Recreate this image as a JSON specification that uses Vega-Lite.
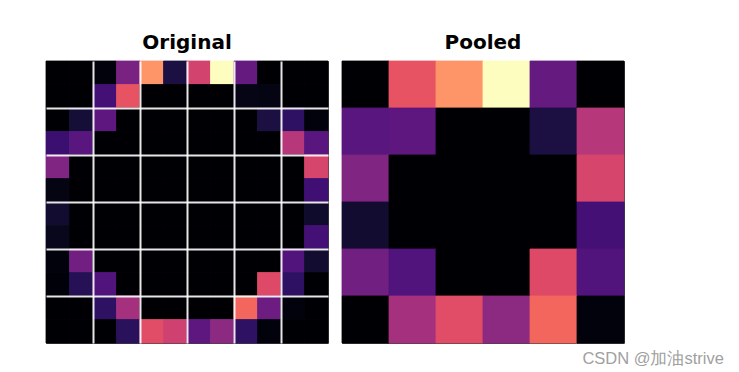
{
  "$schema": "https://vega.github.io/schema/vega-lite/v6.json",
  "background": "white",
  "padding": {"left": 45, "top": 32, "right": 5, "bottom": 5},
  "spacing": 12,
  "title": {"text": "CSDN @加油strive", "orient": "bottom", "anchor": "end", "dx": 99, "offset": 7, "font": "Liberation Sans", "fontSize": 16.5, "fontWeight": "normal", "color": "#a0a0a0"},
  "config": {
    "view": {"stroke": "#444", "strokeWidth": 1},
    "title": {"font": "DejaVu Sans", "fontSize": 20, "fontWeight": "bold", "color": "black", "offset": 8}
  },
  "datasets": {
    "orig": [
      {"r":0,"c":0,"v":0},{"r":0,"c":1,"v":0},{"r":0,"c":2,"v":0.02},{"r":0,"c":3,"v":0.35},{"r":0,"c":4,"v":0.78},{"r":0,"c":5,"v":0.12},{"r":0,"c":6,"v":0.57},{"r":0,"c":7,"v":1.0},{"r":0,"c":8,"v":0.30},{"r":0,"c":9,"v":0},{"r":0,"c":10,"v":0},{"r":0,"c":11,"v":0},
      {"r":1,"c":0,"v":0},{"r":1,"c":1,"v":0},{"r":1,"c":2,"v":0.22},{"r":1,"c":3,"v":0.63},{"r":1,"c":4,"v":0},{"r":1,"c":5,"v":0},{"r":1,"c":6,"v":0},{"r":1,"c":7,"v":0},{"r":1,"c":8,"v":0.04},{"r":1,"c":9,"v":0.03},{"r":1,"c":10,"v":0},{"r":1,"c":11,"v":0},
      {"r":2,"c":0,"v":0},{"r":2,"c":1,"v":0.10},{"r":2,"c":2,"v":0.28},{"r":2,"c":3,"v":0},{"r":2,"c":4,"v":0},{"r":2,"c":5,"v":0},{"r":2,"c":6,"v":0},{"r":2,"c":7,"v":0},{"r":2,"c":8,"v":0},{"r":2,"c":9,"v":0.12},{"r":2,"c":10,"v":0.17},{"r":2,"c":11,"v":0.02},
      {"r":3,"c":0,"v":0.20},{"r":3,"c":1,"v":0.27},{"r":3,"c":2,"v":0},{"r":3,"c":3,"v":0},{"r":3,"c":4,"v":0},{"r":3,"c":5,"v":0},{"r":3,"c":6,"v":0},{"r":3,"c":7,"v":0},{"r":3,"c":8,"v":0},{"r":3,"c":9,"v":0},{"r":3,"c":10,"v":0.50},{"r":3,"c":11,"v":0.27},
      {"r":4,"c":0,"v":0.37},{"r":4,"c":1,"v":0},{"r":4,"c":2,"v":0},{"r":4,"c":3,"v":0},{"r":4,"c":4,"v":0},{"r":4,"c":5,"v":0},{"r":4,"c":6,"v":0},{"r":4,"c":7,"v":0},{"r":4,"c":8,"v":0},{"r":4,"c":9,"v":0},{"r":4,"c":10,"v":0},{"r":4,"c":11,"v":0.58},
      {"r":5,"c":0,"v":0.03},{"r":5,"c":1,"v":0},{"r":5,"c":2,"v":0},{"r":5,"c":3,"v":0},{"r":5,"c":4,"v":0},{"r":5,"c":5,"v":0},{"r":5,"c":6,"v":0},{"r":5,"c":7,"v":0},{"r":5,"c":8,"v":0},{"r":5,"c":9,"v":0},{"r":5,"c":10,"v":0},{"r":5,"c":11,"v":0.21},
      {"r":6,"c":0,"v":0.09},{"r":6,"c":1,"v":0},{"r":6,"c":2,"v":0},{"r":6,"c":3,"v":0},{"r":6,"c":4,"v":0},{"r":6,"c":5,"v":0},{"r":6,"c":6,"v":0},{"r":6,"c":7,"v":0},{"r":6,"c":8,"v":0},{"r":6,"c":9,"v":0},{"r":6,"c":10,"v":0},{"r":6,"c":11,"v":0.08},
      {"r":7,"c":0,"v":0.05},{"r":7,"c":1,"v":0},{"r":7,"c":2,"v":0},{"r":7,"c":3,"v":0},{"r":7,"c":4,"v":0},{"r":7,"c":5,"v":0},{"r":7,"c":6,"v":0},{"r":7,"c":7,"v":0},{"r":7,"c":8,"v":0},{"r":7,"c":9,"v":0},{"r":7,"c":10,"v":0},{"r":7,"c":11,"v":0.22},
      {"r":8,"c":0,"v":0.02},{"r":8,"c":1,"v":0.33},{"r":8,"c":2,"v":0},{"r":8,"c":3,"v":0},{"r":8,"c":4,"v":0},{"r":8,"c":5,"v":0},{"r":8,"c":6,"v":0},{"r":8,"c":7,"v":0},{"r":8,"c":8,"v":0},{"r":8,"c":9,"v":0},{"r":8,"c":10,"v":0.25},{"r":8,"c":11,"v":0.09},
      {"r":9,"c":0,"v":0.01},{"r":9,"c":1,"v":0.15},{"r":9,"c":2,"v":0.25},{"r":9,"c":3,"v":0},{"r":9,"c":4,"v":0},{"r":9,"c":5,"v":0},{"r":9,"c":6,"v":0},{"r":9,"c":7,"v":0},{"r":9,"c":8,"v":0},{"r":9,"c":9,"v":0.60},{"r":9,"c":10,"v":0.17},{"r":9,"c":11,"v":0},
      {"r":10,"c":0,"v":0},{"r":10,"c":1,"v":0},{"r":10,"c":2,"v":0.17},{"r":10,"c":3,"v":0.46},{"r":10,"c":4,"v":0},{"r":10,"c":5,"v":0},{"r":10,"c":6,"v":0},{"r":10,"c":7,"v":0},{"r":10,"c":8,"v":0.68},{"r":10,"c":9,"v":0.32},{"r":10,"c":10,"v":0.02},{"r":10,"c":11,"v":0},
      {"r":11,"c":0,"v":0},{"r":11,"c":1,"v":0},{"r":11,"c":2,"v":0},{"r":11,"c":3,"v":0.16},{"r":11,"c":4,"v":0.61},{"r":11,"c":5,"v":0.56},{"r":11,"c":6,"v":0.28},{"r":11,"c":7,"v":0.40},{"r":11,"c":8,"v":0.17},{"r":11,"c":9,"v":0.02},{"r":11,"c":10,"v":0},{"r":11,"c":11,"v":0}
    ],
    "pool": [
      {"r":0,"c":0,"v":0},{"r":0,"c":1,"v":0.63},{"r":0,"c":2,"v":0.78},{"r":0,"c":3,"v":1.0},{"r":0,"c":4,"v":0.30},{"r":0,"c":5,"v":0},
      {"r":1,"c":0,"v":0.27},{"r":1,"c":1,"v":0.28},{"r":1,"c":2,"v":0},{"r":1,"c":3,"v":0},{"r":1,"c":4,"v":0.12},{"r":1,"c":5,"v":0.50},
      {"r":2,"c":0,"v":0.37},{"r":2,"c":1,"v":0},{"r":2,"c":2,"v":0},{"r":2,"c":3,"v":0},{"r":2,"c":4,"v":0},{"r":2,"c":5,"v":0.58},
      {"r":3,"c":0,"v":0.09},{"r":3,"c":1,"v":0},{"r":3,"c":2,"v":0},{"r":3,"c":3,"v":0},{"r":3,"c":4,"v":0},{"r":3,"c":5,"v":0.22},
      {"r":4,"c":0,"v":0.33},{"r":4,"c":1,"v":0.25},{"r":4,"c":2,"v":0},{"r":4,"c":3,"v":0},{"r":4,"c":4,"v":0.60},{"r":4,"c":5,"v":0.25},
      {"r":5,"c":0,"v":0},{"r":5,"c":1,"v":0.46},{"r":5,"c":2,"v":0.61},{"r":5,"c":3,"v":0.40},{"r":5,"c":4,"v":0.68},{"r":5,"c":5,"v":0.02}
    ]
  },
  "hconcat": [
    {
      "title": "Original",
      "width": 282,
      "height": 282,
      "data": {"name": "orig"},
      "mark": {"type": "rect", "strokeWidth": 0.8},
      "encoding": {
        "x": {"field": "c", "type": "ordinal", "scale": {"paddingInner": 0, "paddingOuter": 0},
              "axis": {"values": [2,4,6,8,10], "grid": true, "gridColor": "white", "gridWidth": 2, "gridOpacity": 0.9, "labels": false, "ticks": false, "domain": false, "title": null, "bandPosition": 0, "zindex": 1}},
        "y": {"field": "r", "type": "ordinal", "scale": {"paddingInner": 0, "paddingOuter": 0},
              "axis": {"values": [2,4,6,8,10], "grid": true, "gridColor": "white", "gridWidth": 2, "gridOpacity": 0.9, "labels": false, "ticks": false, "domain": false, "title": null, "bandPosition": 0, "zindex": 1}},
        "color": {"field": "v", "type": "quantitative", "scale": {"scheme": "magma", "domain": [0, 1]}, "legend": null},
        "stroke": {"field": "v", "type": "quantitative", "scale": {"scheme": "magma", "domain": [0, 1]}, "legend": null}
      }
    },
    {
      "title": "Pooled",
      "width": 282,
      "height": 282,
      "data": {"name": "pool"},
      "mark": {"type": "rect", "strokeWidth": 0.8},
      "encoding": {
        "x": {"field": "c", "type": "ordinal", "scale": {"paddingInner": 0, "paddingOuter": 0}, "axis": null},
        "y": {"field": "r", "type": "ordinal", "scale": {"paddingInner": 0, "paddingOuter": 0}, "axis": null},
        "color": {"field": "v", "type": "quantitative", "scale": {"scheme": "magma", "domain": [0, 1]}, "legend": null},
        "stroke": {"field": "v", "type": "quantitative", "scale": {"scheme": "magma", "domain": [0, 1]}, "legend": null}
      }
    }
  ],
  "resolve": {"scale": {"x": "independent", "y": "independent", "color": "shared", "stroke": "shared"}}
}
